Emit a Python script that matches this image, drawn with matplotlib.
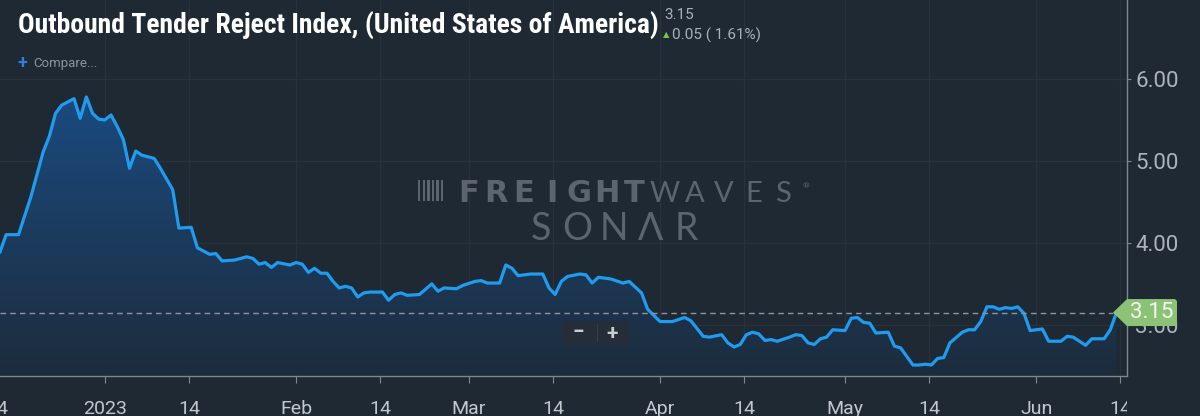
import matplotlib
matplotlib.use('Agg')
import matplotlib.pyplot as plt
import matplotlib.dates as mdates
from matplotlib.colors import LinearSegmentedColormap
from matplotlib.patches import Polygon, FancyBboxPatch, Rectangle
from matplotlib.transforms import IdentityTransform, Bbox, blended_transform_factory
import numpy as np
import pandas as pd

# values (Outbound Tender Reject Index, %)
dates = [
    '2022-12-15', '2022-12-16', '2022-12-18', '2022-12-20', '2022-12-22', '2022-12-23',
    '2022-12-24', '2022-12-25', '2022-12-26', '2022-12-27', '2022-12-28', '2022-12-29',
    '2022-12-30', '2022-12-31', '2023-01-01', '2023-01-02', '2023-01-03', '2023-01-04',
    '2023-01-05', '2023-01-06', '2023-01-07', '2023-01-09', '2023-01-10', '2023-01-12',
    '2023-01-13', '2023-01-15', '2023-01-16', '2023-01-18', '2023-01-19', '2023-01-20',
    '2023-01-22', '2023-01-24', '2023-01-25', '2023-01-26', '2023-01-27', '2023-01-28',
    '2023-01-29', '2023-01-31', '2023-02-01', '2023-02-02', '2023-02-03', '2023-02-04',
    '2023-02-05', '2023-02-06', '2023-02-07', '2023-02-08', '2023-02-09', '2023-02-10',
    '2023-02-11', '2023-02-12', '2023-02-13', '2023-02-15', '2023-02-16', '2023-02-17',
    '2023-02-18', '2023-02-19', '2023-02-21', '2023-02-23', '2023-02-24', '2023-02-25',
    '2023-02-27', '2023-02-28', '2023-03-02', '2023-03-03', '2023-03-04', '2023-03-06',
    '2023-03-07', '2023-03-08', '2023-03-09', '2023-03-11', '2023-03-13', '2023-03-14',
    '2023-03-15', '2023-03-16', '2023-03-17', '2023-03-19', '2023-03-20', '2023-03-21',
    '2023-03-22', '2023-03-24', '2023-03-26', '2023-03-27', '2023-03-29', '2023-03-30',
    '2023-04-01', '2023-04-03', '2023-04-05', '2023-04-06', '2023-04-08', '2023-04-09',
    '2023-04-11', '2023-04-12', '2023-04-13', '2023-04-14', '2023-04-15', '2023-04-16',
    '2023-04-17', '2023-04-18', '2023-04-19', '2023-04-20', '2023-04-22', '2023-04-23',
    '2023-04-24', '2023-04-25', '2023-04-26', '2023-04-27', '2023-04-28', '2023-04-29',
    '2023-05-01', '2023-05-02', '2023-05-03', '2023-05-04', '2023-05-05', '2023-05-06',
    '2023-05-08', '2023-05-09', '2023-05-10', '2023-05-12', '2023-05-13', '2023-05-14',
    '2023-05-15', '2023-05-16', '2023-05-17', '2023-05-18', '2023-05-20', '2023-05-21',
    '2023-05-22', '2023-05-23', '2023-05-24', '2023-05-25', '2023-05-26', '2023-05-27',
    '2023-05-28', '2023-05-29', '2023-05-30', '2023-05-31', '2023-06-02', '2023-06-03',
    '2023-06-05', '2023-06-06', '2023-06-07', '2023-06-09', '2023-06-10', '2023-06-12',
    '2023-06-13', '2023-06-14',
]
values = [
    3.89, 4.10, 4.10, 4.56, 5.11, 5.30,
    5.58, 5.68, 5.72, 5.76, 5.52, 5.78,
    5.58, 5.51, 5.50, 5.56, 5.42, 5.26,
    4.91, 5.12, 5.07, 5.03, 4.91, 4.65,
    4.18, 4.19, 3.94, 3.86, 3.87, 3.78,
    3.79, 3.83, 3.81, 3.74, 3.76, 3.70,
    3.76, 3.73, 3.76, 3.74, 3.64, 3.69,
    3.63, 3.63, 3.53, 3.45, 3.47, 3.45,
    3.34, 3.39, 3.40, 3.40, 3.30, 3.37,
    3.39, 3.36, 3.37, 3.50, 3.41, 3.45,
    3.44, 3.48, 3.53, 3.54, 3.51, 3.51,
    3.73, 3.69, 3.60, 3.62, 3.62, 3.45,
    3.37, 3.53, 3.59, 3.62, 3.61, 3.51,
    3.58, 3.56, 3.51, 3.53, 3.39, 3.19,
    3.04, 3.04, 3.09, 3.05, 2.86, 2.85,
    2.88, 2.78, 2.73, 2.76, 2.88, 2.91,
    2.89, 2.81, 2.82, 2.80, 2.85, 2.88,
    2.87, 2.78, 2.76, 2.83, 2.85, 2.94,
    2.93, 3.08, 3.09, 3.03, 3.02, 2.90,
    2.91, 2.74, 2.72, 2.51, 2.51, 2.52,
    2.51, 2.59, 2.60, 2.78, 2.91, 2.94,
    2.94, 3.04, 3.22, 3.22, 3.19, 3.21,
    3.20, 3.22, 3.14, 2.93, 2.95, 2.80,
    2.80, 2.86, 2.85, 2.75, 2.83, 2.83,
    2.94, 3.15,
]

title = 'Outbound Tender Reject Index, (United States of America)'
last_value = 3.15
change = 0.05
change_pct = 1.61

tick_dates = ['2022-12-14', '2023-01-01', '2023-01-14', '2023-02-01', '2023-02-14',
              '2023-03-01', '2023-03-14', '2023-04-01', '2023-04-14', '2023-05-01',
              '2023-05-14', '2023-06-01', '2023-06-14']
tick_labels = ['14', '2023', '14', 'Feb', '14', 'Mar', '14', 'Apr', '14', 'May',
               '14', 'Jun', '14']
y_ticks = [3, 4, 5, 6]

BG = '#1e2934'
GRID = '#27323d'
AXIS = '#7f868e'
W, H = 1200, 416
AX_R = 1127      # right edge of plot, px
AX_B = 40.5      # bottom edge of plot from bottom, px

plt.rcParams['font.family'] = ['Roboto', 'DejaVu Sans']

fig = plt.figure(figsize=(W / 100, H / 100), dpi=100, facecolor=BG)
ax = fig.add_axes([0, AX_B / H, AX_R / W, 1 - AX_B / H], facecolor=BG)

x = pd.to_datetime(dates)
xlim = (pd.Timestamp('2022-12-15'), pd.Timestamp('2023-06-15 17:00'))
ylim = (2.382, 6.963)

# gradient area under the line
area = ax.fill_between(x, values, ylim[0], color='none', lw=0)
cmap = LinearSegmentedColormap.from_list('fill', ['#1d2c3d', '#195595'])
grad = np.linspace(0, 1, 256).reshape(-1, 1)
im = ax.imshow(grad, cmap=cmap, aspect='auto', origin='lower', zorder=1,
               extent=[mdates.date2num(xlim[0]), mdates.date2num(xlim[1]), ylim[0], ylim[1]])
im.set_clip_path(area.get_paths()[0], ax.transData)

ax.plot(x, values, color='#1f9cf0', lw=2.3, zorder=3, solid_joinstyle='round')

ax.set_xlim(*xlim)
ax.set_ylim(*ylim)

# tick positions: the "14" ticks sit a little past midnight on the chart
tds = []
for d, lab in zip(tick_dates, tick_labels):
    t = pd.Timestamp(d)
    if lab == '14':
        t += pd.Timedelta(hours=15)
    tds.append(t)

for t in tds:
    if xlim[0] <= t <= xlim[1]:
        ax.axvline(t, color=GRID, lw=1, zorder=0)
for v in y_ticks:
    ax.axhline(v, color=GRID, lw=1, zorder=0)

# last value dashed line
ax.axhline(last_value, xmax=(AX_R - 14) / AX_R, color='#8e959c', lw=1,
           ls=(0, (4, 3)), zorder=4)

# axes styling
for s in ['top', 'left']:
    ax.spines[s].set_visible(False)
for s in ['right', 'bottom']:
    ax.spines[s].set_color(AXIS)
    ax.spines[s].set_linewidth(1)

ax.yaxis.tick_right()
ax.set_yticks(y_ticks)
ax.set_yticklabels(['%.2f' % v for v in y_ticks])
ax.tick_params(axis='y', colors=AXIS, labelcolor='#adb3ba', labelsize=16,
               length=3, pad=3)

in_range = [t for t in tds if xlim[0] <= t <= xlim[1]]
ax.set_xticks(in_range)
ax.set_xticklabels([])
ax.tick_params(axis='x', colors=AXIS, length=5, direction='out')

# x labels drawn as text so the edge ones clip like the original
clip = Bbox([[0, 0], [AX_R, H]])
btrans = blended_transform_factory(ax.transData, ax.transAxes)
for t, lab in zip(tds, tick_labels):
    tx = ax.text(t, -0.09, lab, transform=btrans, ha='center', va='center',
                 fontsize=14, color='#c3c8ce', clip_on=False)
    tx.set_clip_box(clip)
    tx.set_clip_on(True)

# last value tag
yd = ax.transData.transform((0, last_value))[1]
hh = 13.5
tag = Polygon([(AX_R - 14, yd), (AX_R, yd + hh), (AX_R + 48, yd + hh),
               (AX_R + 50, yd + hh - 2), (AX_R + 50, yd - hh + 2),
               (AX_R + 48, yd - hh), (AX_R, yd - hh)],
              closed=True, fc='#8cc276', ec='none', transform=IdentityTransform(), zorder=5)
fig.add_artist(tag)
fig.text(AX_R + 25, yd, '%.2f' % last_value, transform=IdentityTransform(),
         ha='center', va='center', fontsize=16, color='#f3f8ef', zorder=6)

# zoom control
fig.add_artist(FancyBboxPatch((562, 71), 68, 24, boxstyle='round,pad=0,rounding_size=3',
                              fc='#242d38', ec='none', transform=IdentityTransform(), zorder=5))
fig.add_artist(Rectangle((596.5, 74), 1, 18, fc='#33404c', ec='none',
                         transform=IdentityTransform(), zorder=6))
fig.text(578, 83, '\u2212', transform=IdentityTransform(), ha='center', va='center',
         fontsize=15, fontweight='bold', color='#c9cdd2', zorder=7)
fig.text(612, 83, '+', transform=IdentityTransform(), ha='center', va='center',
         fontsize=15, fontweight='bold', color='#c9cdd2', zorder=7)

# watermark
WM = '#5c656f'


def spaced(s, x0, x1, base, **kw):
    step = (x1 - x0) / len(s)
    for i, ch in enumerate(s):
        fig.text(x0 + (i + 0.5) * step, base, ch, transform=IdentityTransform(),
                 ha='center', va='baseline', color=WM, zorder=2, **kw)


for i in range(6):
    fig.add_artist(Rectangle((418 + i * 4.6, H - 201), 2.4, 21, fc=WM, ec='none',
                             transform=IdentityTransform(), zorder=2))
spaced('FREIGHT', 455, 648, H - 201.5, fontsize=22, fontweight='heavy',
       family=['DejaVu Sans'])
spaced('WAVES', 650, 798, H - 201.5, fontsize=21, fontweight='normal',
       family=['Lato', 'DejaVu Sans'])
fig.text(806, H - 186, '\u00ae', transform=IdentityTransform(), ha='center',
         va='center', fontsize=6, color=WM)
spaced('SON\u039bR', 523, 705, H - 240, fontsize=27, fontweight='normal',
       family=['Lato', 'DejaVu Sans'])

# header texts
fig.text(18, H - 33, title, transform=IdentityTransform(), ha='left', va='baseline',
         fontsize=19.9, fontweight='bold', color='white',
         family=['Liberation Sans Narrow', 'Roboto Condensed', 'Roboto', 'DejaVu Sans'])
fig.text(664, H - 15, '%.2f' % last_value, transform=IdentityTransform(), ha='left',
         va='center', fontsize=11, color='#aab0b7')
fig.text(663, H - 35, '\u25b2', transform=IdentityTransform(), ha='left', va='center',
         fontsize=6, color='#7ec24e', family=['DejaVu Sans'])
fig.text(672, H - 35, '%.2f ( %.2f%%)' % (change, change_pct), transform=IdentityTransform(),
         ha='left', va='center', fontsize=11, color='#aab0b7')
fig.text(17, H - 63, '+', transform=IdentityTransform(), ha='left', va='center',
         fontsize=13, color='#2f7fd6', fontweight='bold')
fig.text(33, H - 64, 'Compare...', transform=IdentityTransform(), ha='left', va='center',
         fontsize=9.5, color='#8d949b')

fig.savefig('out.png', dpi=100, facecolor=BG)
